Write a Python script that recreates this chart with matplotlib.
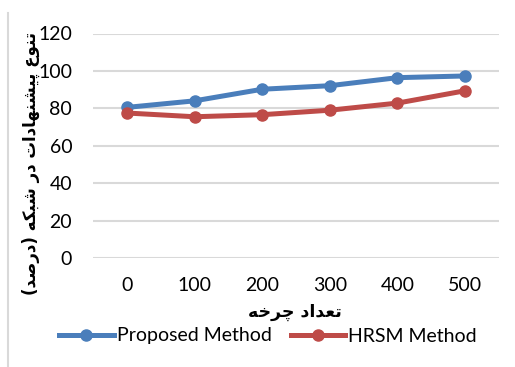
import matplotlib
matplotlib.use("Agg")
import matplotlib.pyplot as plt
from matplotlib.lines import Line2D

cycles = ["0", "100", "200", "300", "400", "500"]
proposed = [80.5, 84, 90.2, 92.1, 96.4, 97.3]
hrsm = [77.5, 75.5, 76.6, 79, 82.8, 89.4]
yticks = [0, 20, 40, 60, 80, 100, 120]

xlabel_fa = "تعداد چرخه"
ylabel_fa = "تنوع پیشنهادات در شبکه (درصد)"

# presentation forms: (isolated, final, initial, medial); right-joining letters have only two
FORMS = {
    "ا": ("\uFE8D", "\uFE8E"),
    "ب": ("\uFE8F", "\uFE90", "\uFE91", "\uFE92"),
    "ت": ("\uFE95", "\uFE96", "\uFE97", "\uFE98"),
    "خ": ("\uFEA5", "\uFEA6", "\uFEA7", "\uFEA8"),
    "د": ("\uFEA9", "\uFEAA"),
    "ر": ("\uFEAD", "\uFEAE"),
    "ش": ("\uFEB5", "\uFEB6", "\uFEB7", "\uFEB8"),
    "ص": ("\uFEB9", "\uFEBA", "\uFEBB", "\uFEBC"),
    "ع": ("\uFEC9", "\uFECA", "\uFECB", "\uFECC"),
    "ن": ("\uFEE5", "\uFEE6", "\uFEE7", "\uFEE8"),
    "ه": ("\uFEE9", "\uFEEA", "\uFEEB", "\uFEEC"),
    "و": ("\uFEED", "\uFEEE"),
    "پ": ("\uFB56", "\uFB57", "\uFB58", "\uFB59"),
    "چ": ("\uFB7A", "\uFB7B", "\uFB7C", "\uFB7D"),
    "ک": ("\uFB8E", "\uFB8F", "\uFB90", "\uFB91"),
    "ی": ("\uFBFC", "\uFBFD", "\uFBFE", "\uFBFF"),
}
MIRROR = {"(": ")", ")": "("}


def shape(text):
    out = []
    for i, ch in enumerate(text):
        if ch not in FORMS:
            out.append(MIRROR.get(ch, ch))
            continue
        prev = text[i - 1] if i > 0 else ""
        nxt = text[i + 1] if i + 1 < len(text) else ""
        join_prev = prev in FORMS and len(FORMS[prev]) == 4
        join_next = nxt in FORMS and len(FORMS[ch]) == 4
        f = FORMS[ch]
        if join_prev and join_next:
            out.append(f[3])
        elif join_prev:
            out.append(f[1])
        elif join_next:
            out.append(f[2])
        else:
            out.append(f[0])
    return "".join(reversed(out))


plt.rcParams["font.family"] = ["Lato", "DejaVu Sans"]

blue = "#4A7EBB"
red = "#BE4B48"
grid = "#D9D9D9"

fig = plt.figure(figsize=(5.15, 3.67), dpi=100)
ax = fig.add_axes([93 / 515, 1 - 258 / 367, 406 / 515, 224.5 / 367])

x = list(range(len(cycles)))
ax.plot(x, proposed, color=blue, lw=3.6, marker="o", ms=8, zorder=3)
ax.plot(x, hrsm, color=red, lw=3.6, marker="o", ms=8, zorder=3)

ax.set_xlim(-0.5, len(cycles) - 0.5)
ax.set_ylim(0, 120)
ax.set_yticks(yticks)
ax.set_xticks(x)
ax.set_xticklabels(cycles)
ax.yaxis.grid(True, color=grid, lw=1.5)
ax.set_axisbelow(True)
for s in ax.spines.values():
    s.set_visible(False)
ax.tick_params(length=0, labelsize=14, colors="#000000")
ax.tick_params(axis="x", pad=14)
ax.tick_params(axis="y", pad=15)

fig.text(295 / 515, 1 - 312 / 367, shape(xlabel_fa), ha="center", va="center",
         fontsize=12.5, fontweight="bold", family="DejaVu Sans")
fig.text(31 / 515, 1 - 163 / 367, shape(ylabel_fa), ha="center", va="center",
         rotation=90, fontsize=12, fontweight="bold", family="DejaVu Sans")

handles = [
    Line2D([], [], color=blue, lw=3.6, marker="o", ms=8),
    Line2D([], [], color=red, lw=3.6, marker="o", ms=8),
]
fig.legend(handles, ["Proposed Method", "HRSM Method"], loc="center",
           bbox_to_anchor=(268 / 515, 1 - 336 / 367), ncol=2, frameon=False,
           fontsize=14, handlelength=2.8, handletextpad=0.15, columnspacing=1.0)

# thin border on the left edge
fig.add_artist(Line2D([8 / 515, 8 / 515], [0, 1 - 13 / 367], color=grid, lw=1.5,
                      transform=fig.transFigure))

fig.savefig("out.png", dpi=100, facecolor="white")
